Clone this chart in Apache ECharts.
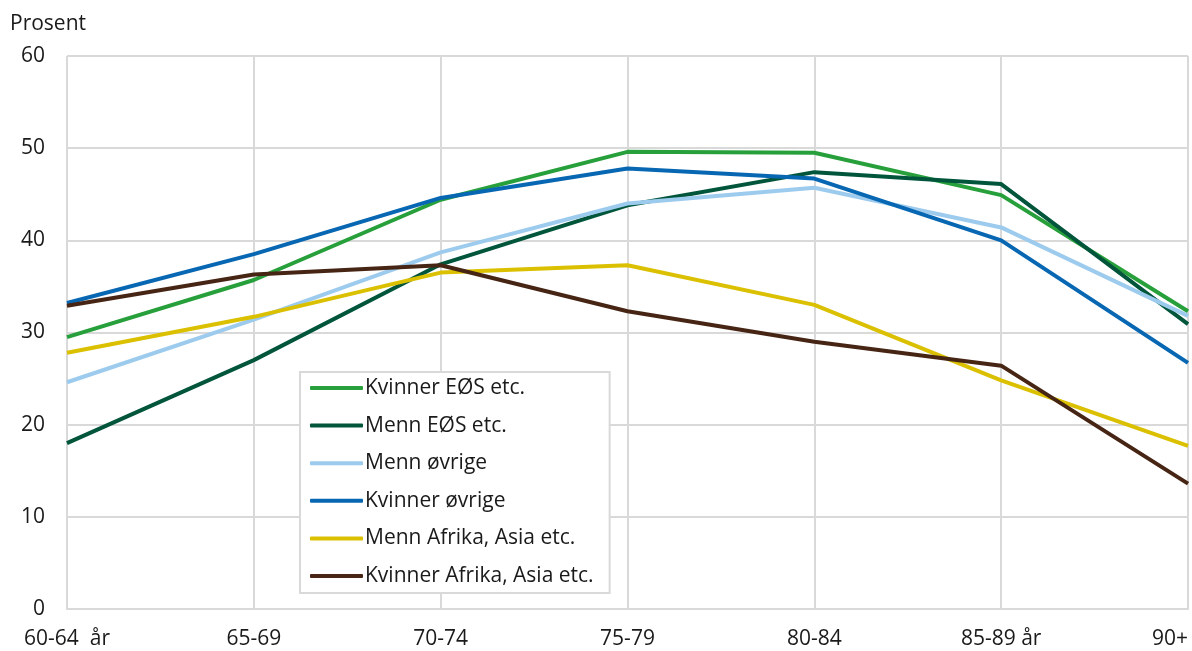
<!DOCTYPE html>
<html>
<head>
<meta charset="utf-8">
<script src="https://cdn.jsdelivr.net/npm/echarts@6/dist/echarts.min.js"></script>
<style>
html,body{margin:0;padding:0;background:#fff;}
#chart{width:1192px;height:651px;}
</style>
</head>
<body>
<div id="chart"></div>
<script>
const categories = ['60-64  år', '65-69', '70-74', '75-79', '80-84', '85-89 år', '90+'];
const kvinnerEOS = [29.5, 35.7, 44.4, 49.6, 49.5, 44.9, 32.3];
const mennEOS = [18.0, 27.0, 37.4, 43.8, 47.4, 46.1, 30.9];
const mennOvrige = [24.6, 31.4, 38.7, 44.0, 45.7, 41.4, 31.8];
const kvinnerOvrige = [33.2, 38.5, 44.6, 47.8, 46.7, 40.0, 26.7];
const mennAfrika = [27.8, 31.7, 36.5, 37.3, 33.0, 24.8, 17.7];
const kvinnerAfrika = [32.9, 36.3, 37.3, 32.3, 29.0, 26.4, 13.6];

const seriesDefs = [
  { name: 'Kvinner EØS etc.', data: kvinnerEOS, color: '#27a03b' },
  { name: 'Menn EØS etc.', data: mennEOS, color: '#00553b' },
  { name: 'Menn øvrige', data: mennOvrige, color: '#9ccbee' },
  { name: 'Kvinner øvrige', data: kvinnerOvrige, color: '#0867b2' },
  { name: 'Menn Afrika, Asia etc.', data: mennAfrika, color: '#dbc000' },
  { name: 'Kvinner Afrika, Asia etc.', data: kvinnerAfrika, color: '#472514' }
];

const font = 'Open Sans';
const fs = 21;
const chart = echarts.init(document.getElementById('chart'), null, { renderer: 'canvas' });
chart.setOption({
  animation: false,
  backgroundColor: '#fff',
  textStyle: { fontFamily: font },
  grid: { left: 67, right: 4, top: 56, bottom: 42, containLabel: false },
  graphic: [{
    type: 'text', left: 10, top: 14,
    style: { text: 'Prosent', font: fs + 'px "Open Sans"', fill: '#1a1a1a' }
  }],
  legend: {
    orient: 'vertical',
    left: 300, top: 372,
    padding: [4, 16, 5, 10],
    backgroundColor: '#fff',
    borderColor: '#d9d9d9',
    borderWidth: 2,
    itemWidth: 53,
    itemHeight: 4,
    itemGap: 13.6,
    icon: 'roundRect',
    textStyle: { fontFamily: font, fontSize: fs, color: '#1a1a1a', lineHeight: 24, padding: [0, 0, 0, -3] },
    data: seriesDefs.map(s => s.name)
  },
  xAxis: {
    type: 'category',
    data: categories,
    boundaryGap: false,
    axisLine: { show: true, lineStyle: { color: '#d9d9d9', width: 2 } },
    axisTick: { show: false },
    splitLine: { show: true, lineStyle: { color: '#d9d9d9', width: 2 } },
    axisLabel: { fontFamily: font, fontSize: fs, color: '#1a1a1a', margin: 20, alignMaxLabel: 'right' }
  },
  yAxis: {
    type: 'value',
    min: 0, max: 60, interval: 10,
    axisLine: { show: false },
    axisTick: { show: false },
    splitLine: { show: true, lineStyle: { color: '#d9d9d9', width: 2 } },
    axisLabel: { fontFamily: font, fontSize: fs, color: '#1a1a1a', margin: 22 }
  },
  series: seriesDefs.map(s => ({
    name: s.name,
    type: 'line',
    data: s.data,
    showSymbol: false,
    symbol: 'none',
    lineStyle: { color: s.color, width: 4 },
    itemStyle: { color: s.color }
  }))
});
</script>
</body>
</html>
